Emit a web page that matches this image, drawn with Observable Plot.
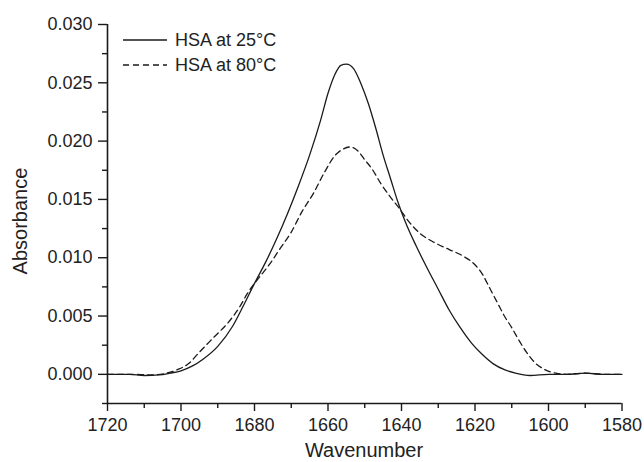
<!DOCTYPE html>
<html>
<head>
<meta charset="utf-8">
<script src="https://cdn.jsdelivr.net/npm/d3@7"></script>
<script src="https://cdn.jsdelivr.net/npm/@observablehq/plot@0.6"></script>
<style>
  html, body { margin: 0; padding: 0; background: white; }
  #chart { width: 644px; height: 462px; }
</style>
</head>
<body>
<div id="chart"></div>
<script>
// ---- Data ----
const seriesNames = ["HSA at 25°C", "HSA at 80°C"];

const wavenumber25 = [1720, 1714, 1710, 1706, 1703, 1700, 1697, 1694, 1690, 1686, 1683, 1680, 1677, 1674, 1671, 1668, 1665, 1662, 1660, 1658, 1656.5, 1655, 1653, 1651, 1649, 1647, 1645, 1643, 1641, 1639, 1636, 1633, 1630, 1627, 1624, 1621, 1618, 1615, 1612, 1609, 1605, 1600, 1595, 1590, 1585, 1580];
const absorbance25 = [0, 0, -0.0001, -0.00005, 0.0001, 0.0003, 0.0007, 0.0013, 0.0024, 0.0041, 0.0059, 0.0078, 0.0096, 0.0116, 0.0138, 0.0162, 0.0188, 0.0218, 0.0241, 0.0258, 0.0265, 0.0266, 0.0262, 0.0249, 0.0232, 0.0211, 0.0188, 0.0168, 0.0148, 0.0131, 0.0110, 0.0091, 0.0073, 0.0055, 0.0040, 0.0027, 0.0017, 0.0009, 0.0004, 0.0001, -0.0001, 0, 0, 0.0001, 0, 0];

const wavenumber80 = [1720, 1714, 1708, 1704, 1701, 1698, 1695, 1691, 1687, 1684, 1682, 1679, 1676, 1673, 1670, 1667, 1664, 1661, 1658, 1656, 1654, 1652, 1650, 1648, 1645.7, 1643, 1640.5, 1638, 1635, 1631, 1627, 1623, 1620, 1618, 1616, 1614, 1612, 1610, 1608, 1606, 1604, 1601, 1598, 1595, 1590, 1585, 1580];
const absorbance80 = [0, 0, -0.00005, 0.0001, 0.0004, 0.0009, 0.0019, 0.0032, 0.0045, 0.0058, 0.0069, 0.0082, 0.0094, 0.0108, 0.0122, 0.0140, 0.0155, 0.0173, 0.0188, 0.0193, 0.0195, 0.0192, 0.0184, 0.0176, 0.0164, 0.0152, 0.0142, 0.0131, 0.0121, 0.0113, 0.0107, 0.0101, 0.0094, 0.0086, 0.0074, 0.0062, 0.0050, 0.0040, 0.0029, 0.0019, 0.0011, 0.0004, 0.0001, 0, 0.0001, 0, 0];

const xTicks = [1720, 1700, 1680, 1660, 1640, 1620, 1600, 1580];
const xMinorTicks = [1710, 1690, 1670, 1650, 1630, 1610, 1590];
const yTicks = [0.000, 0.005, 0.010, 0.015, 0.020, 0.025, 0.030];
const yMinorTicks = [-0.0025, 0.0025, 0.0075, 0.0125, 0.0175, 0.0225, 0.0275];
const xDomain = [1720, 1580];
const yDomain = [-0.0025, 0.030];

const data25 = wavenumber25.map((w, i) => ({wn: w, abs: absorbance25[i]}));
const data80 = wavenumber80.map((w, i) => ({wn: w, abs: absorbance80[i]}));

const ink = "#1a1a1a";
const fmt = d3.format(".3f");

const plot = Plot.plot({
  width: 644,
  height: 462,
  marginLeft: 107,
  marginRight: 22.5,
  marginTop: 24,
  marginBottom: 59,
  x: {domain: xDomain},
  y: {domain: yDomain},
  style: {fontFamily: "'Liberation Sans', Arial, sans-serif", fontSize: "18px", color: "#222", background: "white", overflow: "visible"},
  marks: [
    Plot.axisX({ticks: xTicks, tickSize: 8, tickPadding: 7, tickFormat: d => String(d), label: null, stroke: ink, strokeWidth: 1.4, fill: "#222"}),
    Plot.axisX({ticks: xMinorTicks, tickSize: 5, tickFormat: () => "", label: null, stroke: ink, strokeWidth: 1.4}),
    Plot.axisY({ticks: yTicks, tickSize: 9, tickPadding: 6, tickFormat: fmt, label: null, stroke: ink, strokeWidth: 1.4, fill: "#222"}),
    Plot.axisY({ticks: yMinorTicks, tickSize: 5, tickFormat: () => "", label: null, stroke: ink, strokeWidth: 1.4}),
    Plot.ruleY([yDomain[0]], {stroke: ink, strokeWidth: 1.6}),
    Plot.ruleX([xDomain[0]], {stroke: ink, strokeWidth: 1.6}),
    Plot.line(data25, {x: "wn", y: "abs", stroke: ink, strokeWidth: 1.3, curve: "monotone-x"}),
    Plot.line(data80, {x: "wn", y: "abs", stroke: ink, strokeWidth: 1.3, strokeDasharray: "6,4", curve: "monotone-x"})
  ]
});

const svg = d3.select(plot);
// Axis titles
svg.append("text")
  .attr("transform", "translate(27,221) rotate(-90)")
  .attr("text-anchor", "middle")
  .attr("font-size", "20px")
  .attr("fill", "#222")
  .text("Absorbance");
svg.append("text")
  .attr("x", 364)
  .attr("y", 457)
  .attr("text-anchor", "middle")
  .attr("font-size", "20px")
  .attr("fill", "#222")
  .text("Wavenumber");

// Legend
const legend = svg.append("g");
seriesNames.forEach((name, i) => {
  const y = 40 + i * 25;
  legend.append("line")
    .attr("x1", 123).attr("x2", 167).attr("y1", y).attr("y2", y)
    .attr("stroke", ink).attr("stroke-width", 1.3)
    .attr("stroke-dasharray", i === 1 ? "6,4" : null);
  legend.append("text")
    .attr("x", 175).attr("y", y).attr("dy", "0.35em")
    .attr("text-anchor", "start")
    .attr("font-size", "18px").attr("fill", "#222")
    .text(name);
});

document.getElementById("chart").appendChild(plot);
</script>
</body>
</html>
